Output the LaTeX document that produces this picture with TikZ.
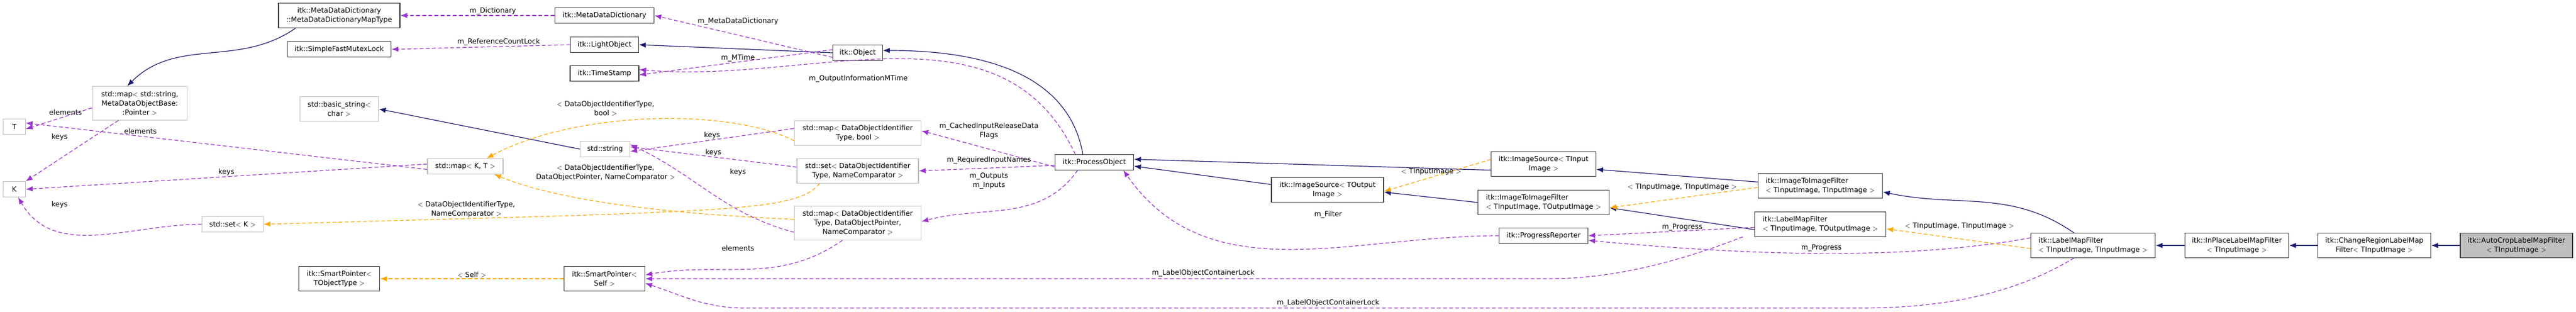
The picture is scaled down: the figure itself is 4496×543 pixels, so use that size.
\documentclass[tikz,border=0pt]{standalone}
\usepackage{fontspec}
\setmainfont{DejaVu Sans}
\usetikzlibrary{arrows.meta}
\definecolor{inhcol}{RGB}{25,25,112}
\definecolor{usecol}{RGB}{154,50,205}
\definecolor{tplcol}{RGB}{255,165,0}

\begin{document}
\begin{tikzpicture}[x=0.75pt,y=-0.75pt,
  font=\fontsize{9.2}{12}\selectfont,
  cls/.style={draw=black!80,line width=0.9pt,fill=white,inner sep=1pt,align=center},
  ext/.style={draw=black!25,line width=0.9pt,fill=white,inner sep=1pt,align=center},
  inh/.style={draw=inhcol,line width=0.9pt,-{Latex[length=9pt,width=7pt]}},
  use/.style={draw=usecol,line width=0.9pt,dash pattern=on 5pt off 3pt,-{Latex[length=9pt,width=7pt]}},
  tpl/.style={draw=tplcol,line width=0.9pt,dash pattern=on 5pt off 3pt,-{Latex[length=9pt,width=7pt]}},
  lbl/.style={align=center,inner sep=1pt}]
\useasboundingbox (0,0) rectangle (4496,543);

% classes
\node[cls,minimum width=159pt,minimum height=32pt] (mapty) at (592,27) {itk::MetaDataDictionary\\::MetaDataDictionaryMapType};
\node[cls,minimum width=136pt,minimum height=20pt] (mutex) at (592,86) {itk::SimpleFastMutexLock};
\node[ext,minimum width=124pt,minimum height=44pt] (mapstr) at (244,180) {std::map$<$ std::string,\\MetaDataObjectBase:\\:Pointer $>$};
\node[ext,minimum width=29pt,minimum height=20pt] (tT) at (25,221) {T};
\node[ext,minimum width=29pt,minimum height=20pt] (tK) at (25,330) {K};
\node[ext,minimum width=103pt,minimum height=32pt] (bstr) at (592,190) {std::basic\_string$<$\\char $>$};
\node[ext,minimum width=99pt,minimum height=20pt] (mapkt) at (812,290) {std::map$<$ K, T $>$};
\node[ext,minimum width=80pt,minimum height=20pt] (setk) at (406,391) {std::set$<$ K $>$};
\node[cls,minimum width=106pt,minimum height=32pt] (sptr) at (592,486) {itk::SmartPointer$<$\\TObjectType $>$};

\node[cls,minimum width=130pt,minimum height=20pt] (mdd) at (1055,27) {itk::MetaDataDictionary};
\node[cls,minimum width=89pt,minimum height=20pt] (light) at (1055,78) {itk::LightObject};
\node[cls,minimum width=90pt,minimum height=20pt] (tstamp) at (1055,128) {itk::TimeStamp};
\node[cls,minimum width=65pt,minimum height=20pt] (obj) at (1497,92) {itk::Object};
\node[ext,minimum width=65pt,minimum height=20pt] (str) at (1056,260) {std::string};
\node[ext,minimum width=166pt,minimum height=32pt] (mapbool) at (1497,232) {std::map$<$ DataObjectIdentifier\\Type, bool $>$};
\node[ext,minimum width=159pt,minimum height=32pt] (setnc) at (1497,298) {std::set$<$ DataObjectIdentifier\\Type, NameComparator $>$};
\node[ext,minimum width=166pt,minimum height=44pt] (mapdop) at (1497,389) {std::map$<$ DataObjectIdentifier\\Type, DataObjectPointer,\\NameComparator $>$};
\node[cls,minimum width=103pt,minimum height=20pt] (po) at (1910,283) {itk::ProcessObject};
\node[cls,minimum width=106pt,minimum height=32pt] (spself) at (1055,486) {itk::SmartPointer$<$\\Self $>$};

\node[cls,minimum width=137pt,minimum height=32pt] (srcin) at (2694,286) {itk::ImageSource$<$ TInput\\Image $>$};
\node[cls,minimum width=147pt,minimum height=32pt] (srcout) at (2317,331) {itk::ImageSource$<$ TOutput\\Image $>$};
\node[cls,minimum width=172pt,minimum height=32pt,align=left] (iifout) at (2694,353) {itk::ImageToImageFilter\\$<$ TInputImage, TOutputImage $>$};
\node[cls,minimum width=116pt,minimum height=20pt] (prog) at (2694,411) {itk::ProgressReporter};
\node[cls,minimum width=163pt,minimum height=32pt,align=left] (iifin) at (3177,324) {itk::ImageToImageFilter\\$<$ TInputImage, TInputImage $>$};
\node[cls,minimum width=172pt,minimum height=32pt,align=left] (lmfout) at (3177,391) {itk::LabelMapFilter\\$<$ TInputImage, TOutputImage $>$};
\node[cls,minimum width=163pt,minimum height=32pt,align=left] (lmfin) at (3653,428) {itk::LabelMapFilter\\$<$ TInputImage, TInputImage $>$};
\node[cls,minimum width=136pt,minimum height=32pt] (inplace) at (3904,428) {itk::InPlaceLabelMapFilter\\$<$ TInputImage $>$};
\node[cls,minimum width=148pt,minimum height=32pt] (chreg) at (4144,428) {itk::ChangeRegionLabelMap\\Filter$<$ TInputImage $>$};
\node[cls,minimum width=147pt,minimum height=32pt,fill=black!25] (autocrop) at (4392,428) {itk::AutoCropLabelMapFilter\\$<$ TInputImage $>$};

% inheritance
\draw[inh] ([xshift=23pt]mapty.south west) to[out=215,in=45] ([xshift=46pt]mapstr.north west);
\draw[inh] (obj.west) -- (light.east);
\draw[inh] ([xshift=-15pt]po.north) to[out=100,in=0] ([yshift=3pt]obj.east);
\draw[inh] (str.west) -- (bstr.east);
\draw[inh] ([yshift=-8pt]srcin.west) -- ([yshift=4pt]po.east);
\draw[inh] ([yshift=7pt]srcout.west) -- ([yshift=-5pt]po.east);
\draw[inh] (iifout.west) -- ([yshift=-3pt]srcout.east);
\draw[inh] ([yshift=5pt]iifin.west) -- ([yshift=-7pt]srcin.east);
\draw[inh] ([yshift=-7pt]lmfout.west) -- ([yshift=-7pt]iifout.east);
\draw[inh] ([xshift=-25pt]lmfin.north) to[out=145,in=-12] ([yshift=-8pt]iifin.east);
\draw[inh] (inplace) -- (lmfin);
\draw[inh] (chreg) -- (inplace);
\draw[inh] (autocrop) -- (chreg);

% members
\draw[use] (mdd.west) -- node[lbl,above,pos=0.4] {m\_Dictionary} (mapty.east);
\draw[use] (light.west) -- node[lbl,above,pos=0.4] {m\_ReferenceCountLock} (mutex.east);
\draw[use] ([yshift=-6pt]obj.west) -- (mdd.east);
\node[lbl] at (1288,37) {m\_MetaDataDictionary};
\draw[use] ([yshift=4pt]obj.west) -- ([yshift=-2pt]tstamp.east);
\node[lbl] at (1288,101) {m\_MTime};
\draw[use] ([xshift=-25pt]po.north) to[out=115,in=-5] ([yshift=5pt]tstamp.east);
\node[lbl] at (1498,137) {m\_OutputInformationMTime};
\draw[use] ([yshift=-6pt]mapstr.west) -- node[lbl,above,pos=0.4] {elements} ([yshift=-3pt]tT.east);
\draw[use] ([xshift=-28pt]mapstr.south) -- (tK.north east);
\node[lbl] at (104,239) {keys};
\draw[use] ([yshift=-4pt]mapkt.west) -- ([yshift=5pt]tT.east);
\node[lbl] at (245,229) {elements};
\draw[use] ([yshift=3pt]mapkt.west) -- node[lbl,above,pos=0.5] {keys} (tK.east);
\draw[use] (setk.west) to[out=180,in=-60] ([xshift=5pt]tK.south);
\node[lbl] at (104,357) {keys};
\draw[use] ([yshift=6pt]mapbool.west) -- node[lbl,above,pos=0.5] {keys} ([yshift=-3pt]str.east);
\draw[use] ([yshift=5pt]setnc.west) -- node[lbl,above,pos=0.5] {keys} ([yshift=3pt]str.east);
\draw[use] ([yshift=-12pt]mapdop.west) to[out=165,in=-25] ([yshift=6pt]str.east);
\node[lbl] at (1288,300) {keys};
\draw[use] ([yshift=-6pt]po.west) -- ([yshift=3pt]mapbool.east);
\node[lbl] at (1726,228) {m\_CachedInputReleaseData\\Flags};
\draw[use] ([yshift=-4pt]po.west) -- (setnc.east);
\node[lbl] at (1726,279) {m\_RequiredInputNames};
\draw[use] ([xshift=-22pt]po.south) to[out=235,in=15] ([yshift=2pt]mapdop.east);
\node[lbl] at (1726,315) {m\_Outputs\\m\_Inputs};
\draw[use] ([xshift=-20pt]mapdop.south) to[out=215,in=10] ([yshift=5pt]spself.east);
\node[lbl] at (1288,433) {elements};
\draw[use] ([xshift=-15pt]lmfout.south west) .. controls (2870,480) and (2760,486) .. (2700,486) -- (spself.east);
\node[lbl] at (2100,476) {m\_LabelObjectContainerLock};
\draw[use] ([xshift=-25pt]lmfin.south) .. controls (3520,510) and (3400,537) .. (3250,537) -- (1300,537) to[out=180,in=-18] ([yshift=-6pt]spself.east);
\node[lbl] at (2318,528) {m\_LabelObjectContainerLock};
\draw[use] (prog.west) to[out=180,in=-55] ([xshift=38pt]po.south);
\node[lbl] at (2318,374) {m\_Filter};
\draw[use] ([yshift=-4pt]lmfout.west) -- (prog.east);
\node[lbl] at (2936,396) {m\_Progress};
\draw[use] ([yshift=10pt]lmfin.west) .. controls (3350,450) and (3100,450) .. ([yshift=-6pt]prog.east);
\node[lbl] at (3179,432) {m\_Progress};

% template instances
\draw[tpl] ([yshift=-10pt]mapbool.west) .. controls (1280,190) and (1010,190) .. ([xshift=28pt]mapkt.north);
\node[lbl] at (1057,189) {$<$ DataObjectIdentifierType,\\bool $>$};
\draw[tpl] ([yshift=5pt]mapdop.west) .. controls (1100,370) and (950,340) .. ([xshift=-12pt]mapkt.south east);
\node[lbl] at (1057,301) {$<$ DataObjectIdentifierType,\\DataObjectPointer, NameComparator $>$};
\draw[tpl] ([xshift=-50pt]setnc.south) .. controls (1400,360) and (1300,365) .. (1000,376) -- (setk.east);
\node[lbl] at (814,365) {$<$ DataObjectIdentifierType,\\NameComparator $>$};
\draw[tpl] (spself.west) -- node[lbl,above] {$<$ Self $>$} (sptr.east);
\draw[tpl] ([yshift=6pt]srcin.west) -- ([yshift=-2pt]srcout.east);
\node[lbl] at (2498,299) {$<$ TInputImage $>$};
\draw[tpl] ([yshift=-2pt]iifin.west) -- ([yshift=-7pt]iifout.east);
\node[lbl] at (2936,326) {$<$ TInputImage, TInputImage $>$};
\draw[tpl] ([yshift=-4pt]lmfin.west) -- ([yshift=-6pt]lmfout.east);
\node[lbl] at (3420,394) {$<$ TInputImage, TInputImage $>$};
\end{tikzpicture}
\end{document}
